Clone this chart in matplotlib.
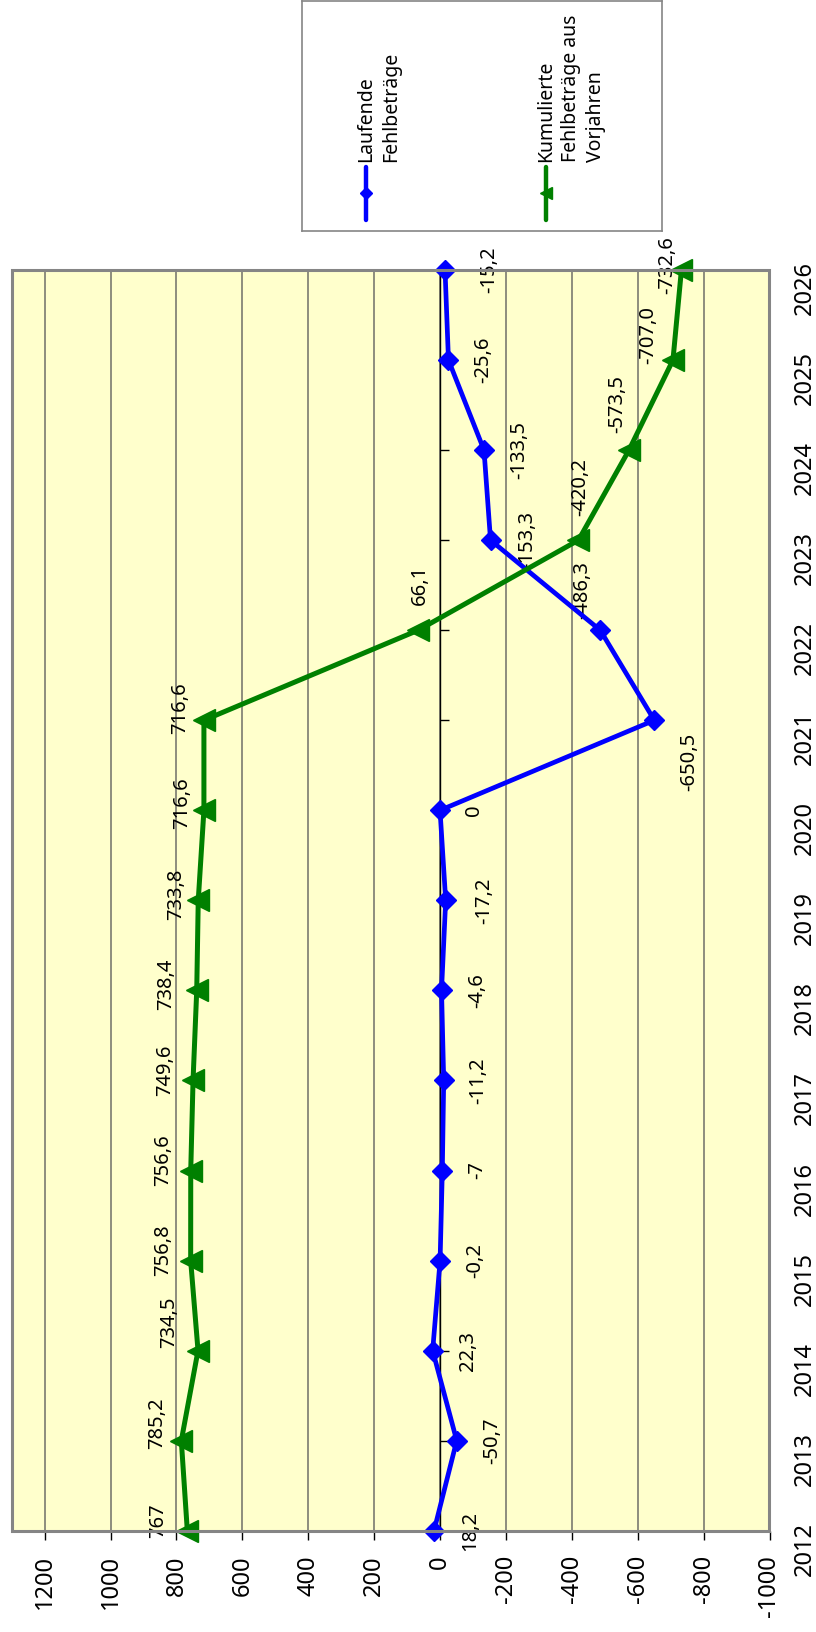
import matplotlib
matplotlib.use("Agg")
import matplotlib.pyplot as plt
from matplotlib.patches import Rectangle

plt.rcParams['font.family'] = ['Noto Sans', 'DejaVu Sans']

jahre = list(range(2012, 2027))
laufende = [18.2, -50.7, 22.3, -0.2, -7, -11.2, -4.6, -17.2, 0,
            -650.5, -486.3, -153.3, -133.5, -25.6, -15.2]
kumuliert = [767, 785.2, 734.5, 756.8, 756.6, 749.6, 738.4, 733.8, 716.6,
             716.6, 66.1, -420.2, -573.5, -707.0, -732.6]
laufende_txt = ["18,2", "-50,7", "22,3", "-0,2", "-7", "-11,2", "-4,6", "-17,2", "0",
                "-650,5", "-486,3", "-153,3", "-133,5", "-25,6", "-15,2"]
kumuliert_txt = ["767", "785,2", "734,5", "756,8", "756,6", "749,6", "738,4", "733,8",
                 "716,6", "716,6", "66,1", "-420,2", "-573,5", "-707,0", "-732,6"]
wert_ticks = list(range(-1000, 1201, 200))

# label offsets in pixels (right, down)
lauf_off = [(36, 0), (36, 0), (35, 0), (35, 0), (35, 0), (35, 0), (36, 0), (39, 0), (34, 0),
            (35, 42), (-18, -40), (37, 0), (35, 0), (35, 0), (44, 0)]
kum_off = [(-29, -10), (-24, -17), (-29, -28), (-28, -10), (-28, -10), (-28, -10), (-31, -6),
           (-22, -6), (-22, -7), (-24, -12), (2, -45), (2, -53), (-12, -46), (-25, -25), (-14, -5)]

W, H = 816, 1632
fig = plt.figure(figsize=(W / 100, H / 100), dpi=100)

# chart is drawn turned by 90 degrees: values run right-to-left, years bottom-to-top
x0, x1, ytop, ybot = 11.7, 769.5, 270, 1530.7
ax = fig.add_axes([x0 / W, 1 - ybot / H, (x1 - x0) / W, (ybot - ytop) / H])
ax.set_facecolor('#FFFFCC')
ax.set_xlim(1300, -1000)
ax.set_ylim(2012, 2026)

ax.set_xticks(wert_ticks)
ax.set_xticklabels([str(v) for v in wert_ticks], rotation=90, fontsize=17, va='top', ha='center')
ax.tick_params(axis='x', direction='out', length=6.6, width=1, color='black', pad=11)
ax.grid(axis='x', color='#7a7a70', linewidth=1.2, zorder=1)
ax.set_axisbelow(True)

ax.set_yticks(jahre)
ax.set_yticklabels([str(j) for j in jahre])
ax.tick_params(axis='y', left=True, right=False, labelleft=False, labelright=True,
               direction='in', length=6.6, width=1, color='black', pad=16.5,
               labelsize=17, labelrotation=90)
for tick in ax.yaxis.get_major_ticks():
    tick.label2.set_verticalalignment('center')
    tick.label2.set_horizontalalignment('left')

for s in ['top', 'bottom', 'right']:
    ax.spines[s].set_visible(False)
ax.spines['left'].set_position(('data', 0))
ax.spines['left'].set_color('black')
ax.spines['left'].set_linewidth(1)
ax.add_patch(Rectangle((0, 0), 1, 1, transform=ax.transAxes, fill=False,
                       edgecolor='#858585', linewidth=2.2, clip_on=False, zorder=5))

ax.plot(laufende, jahre, color='#0000FF', linewidth=3.4, marker='D', markersize=10.5,
        clip_on=False, zorder=4)
ax.plot(kumuliert, jahre, color='#008000', linewidth=3.6, marker='<', markersize=15.5,
        clip_on=False, zorder=4)

for v, j, t, (dx, dy) in zip(laufende, jahre, laufende_txt, lauf_off):
    ax.annotate(t, (v, j), xytext=(dx * 0.72, -dy * 0.72), textcoords='offset points',
                rotation=90, ha='center', va='center', fontsize=14.5, zorder=3,
                annotation_clip=False)
for v, j, t, (dx, dy) in zip(kumuliert, jahre, kumuliert_txt, kum_off):
    ax.annotate(t, (v, j), xytext=(dx * 0.72, -dy * 0.72), textcoords='offset points',
                rotation=90, ha='center', va='center', fontsize=14.5, zorder=3,
                annotation_clip=False)

# legend box, laid out in pixel units
lx0, lx1, ly0, ly1 = 302.3, 662.3, 1, 231
lax = fig.add_axes([lx0 / W, 1 - ly1 / H, (lx1 - lx0) / W, (ly1 - ly0) / H])
lax.set_xlim(lx0, lx1)
lax.set_ylim(ly1, ly0)
lax.set_xticks([])
lax.set_yticks([])
for s in lax.spines.values():
    s.set_color('#858585')
    s.set_linewidth(1.2)

lax.plot([366, 366], [167, 220], color='#0000FF', linewidth=3.2, solid_capstyle='round')
lax.plot([366], [193], color='#0000FF', marker='D', markersize=6)
lax.plot([546, 546], [167, 220], color='#008000', linewidth=3.2, solid_capstyle='round')
lax.plot([546], [193], color='#008000', marker='<', markersize=8)

for xpos, txt in [(366, 'Laufende'), (391, 'Fehlbeträge'),
                  (546, 'Kumulierte'), (571, 'Fehlbeträge aus'), (596, 'Vorjahren')]:
    lax.text(xpos, 162, txt, rotation=90, ha='center', va='bottom', fontsize=14)

fig.savefig('out.png', dpi=100)
